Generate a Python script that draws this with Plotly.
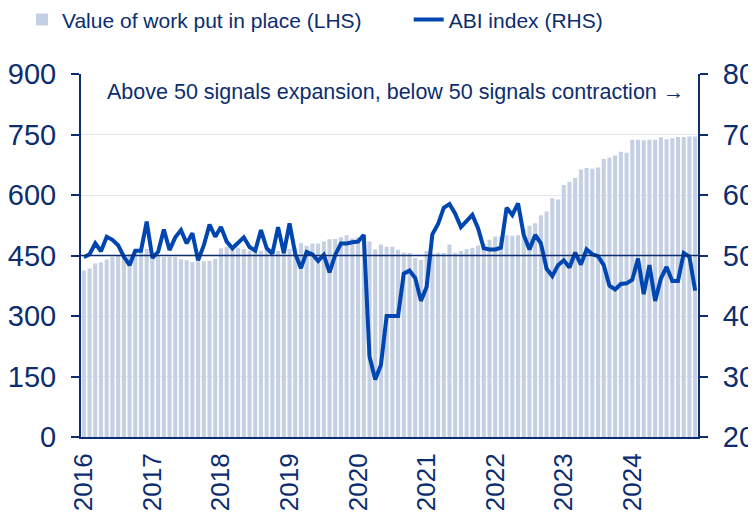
import plotly.graph_objects as go

years = ["2016", "2017", "2018", "2019", "2020", "2021", "2022", "2023", "2024"]

# Value of work put in place (LHS), monthly Jan 2016 - Dec 2024
work_value = [
    413, 418, 430, 433, 440, 447, 450, 452, 454, 458, 460, 466,
    453, 450, 446, 446, 446, 441, 438, 434, 436, 436, 437, 442,
    468, 472, 466, 470, 466, 462, 460, 462, 465, 460, 462, 468,
    466, 470, 481, 474, 480, 480, 485, 490, 491, 495, 500, 493,
    496, 500, 485, 465, 477, 472, 472, 464, 457, 456, 444, 439,
    461, 455, 457, 456, 477, 457, 461, 466, 469, 475, 479, 489,
    497, 497, 500, 499, 500, 514, 524, 530, 550, 559, 592, 589,
    625, 633, 642, 663, 667, 665, 668, 689, 693, 698, 707, 705,
    737, 737, 736, 737, 737, 743, 738, 741, 744, 744, 745, 745,
]

# ABI index (RHS)
abi_index = [
    49.7, 50.2, 52.0, 50.7, 53.1, 52.6, 51.7, 49.8, 48.4, 50.8, 50.8, 55.6,
    49.6, 50.6, 54.3, 50.9, 53.0, 54.2, 52.0, 53.7, 49.2, 51.7, 55.1, 53.1,
    54.7, 52.3, 51.2, 52.0, 53.0, 51.4, 50.8, 54.2, 51.2, 50.3, 54.7, 50.4,
    55.3, 50.3, 47.9, 50.6, 50.2, 49.1, 50.1, 47.2, 50.1, 52.0, 52.0, 52.2,
    52.3, 53.4, 33.3, 29.5, 31.9, 40.0, 40.0, 40.0, 47.0, 47.5, 46.3, 42.5,
    44.8, 53.5, 55.2, 57.9, 58.5, 56.9, 54.7, 55.7, 56.7, 54.5, 51.2, 51.0,
    51.0, 51.3, 57.9, 56.7, 58.6, 53.4, 51.0, 53.4, 52.0, 47.8, 46.6, 48.4,
    49.2, 48.0, 50.5, 48.5, 51.0, 50.2, 49.9, 48.4, 45.0, 44.4, 45.3, 45.4,
    46.0, 49.5, 43.6, 48.4, 42.5, 46.2, 48.1, 45.8, 45.8, 50.4, 49.8, 44.2,
]

threshold = 50
months = list(range(len(work_value)))
year_ticks = [12 * k for k in range(len(years))]

NAVY = "#0c2d6f"
LINE = "#0046b0"
BAR = "#c5d0e3"
GRID = "#e6e6e6"
FONT = "Liberation Sans, Arial, sans-serif"

fig = go.Figure()
fig.add_trace(go.Bar(
    x=months, y=work_value, name="Value of work put in place (LHS)",
    marker=dict(color=BAR, line=dict(width=0)), yaxis="y", legend="legend",
))
fig.add_trace(go.Scatter(
    x=months, y=abi_index, name="ABI index (RHS)", mode="lines",
    line=dict(color=LINE, width=4), yaxis="y2", legend="legend2",
))

fig.add_shape(type="line", xref="paper", x0=0, x1=1, yref="y2", y0=threshold, y1=threshold,
              line=dict(color=NAVY, width=1.5), layer="above")

fig.add_annotation(
    text="Above 50 signals expansion, below 50 signals contraction \u2192",
    xref="paper", yref="paper", x=0.98, y=0.95, xanchor="right", yanchor="middle",
    showarrow=False, font=dict(size=21.5, color=NAVY, family=FONT),
)

legend_common = dict(orientation="h", xref="container", yref="container", y=0.977,
                     xanchor="left", yanchor="middle", font=dict(size=21, color=NAVY),
                     bgcolor="rgba(0,0,0,0)")

fig.update_layout(
    width=756, height=515,
    margin=dict(l=73, r=66, t=66, b=86, autoexpand=False),
    paper_bgcolor="white", plot_bgcolor="white",
    font=dict(family=FONT, color=NAVY, size=21),
    bargap=0.28,
    showlegend=True,
    legend=dict(x=0.0185, **legend_common),
    legend2=dict(x=0.530, **legend_common),
    xaxis=dict(
        range=[-0.5, len(months) - 0.5], tickmode="array", tickvals=year_ticks, ticktext=years,
        tickangle=-90, tickfont=dict(size=26, color=NAVY), showgrid=False,
        showline=True, linecolor=NAVY, linewidth=2, ticks="", zeroline=False,
        automargin=False, ticklabelstandoff=4,
    ),
    yaxis=dict(
        range=[0, 900], dtick=150, tick0=0, tickfont=dict(size=29, color=NAVY),
        showgrid=True, gridcolor=GRID, gridwidth=1, zeroline=False,
        showline=True, linecolor=NAVY, linewidth=2, ticks="outside", ticklen=8,
        tickcolor=NAVY, tickwidth=2, ticklabelstandoff=9, automargin=False,
    ),
    yaxis2=dict(
        range=[20, 80], dtick=10, tick0=20, overlaying="y", side="right",
        tickfont=dict(size=29, color=NAVY), showgrid=False, zeroline=False,
        showline=True, linecolor=NAVY, linewidth=2, ticks="outside", ticklen=8,
        tickcolor=NAVY, tickwidth=2, ticklabelstandoff=9, automargin=False,
    ),
)

fig.write_html("out.html")
